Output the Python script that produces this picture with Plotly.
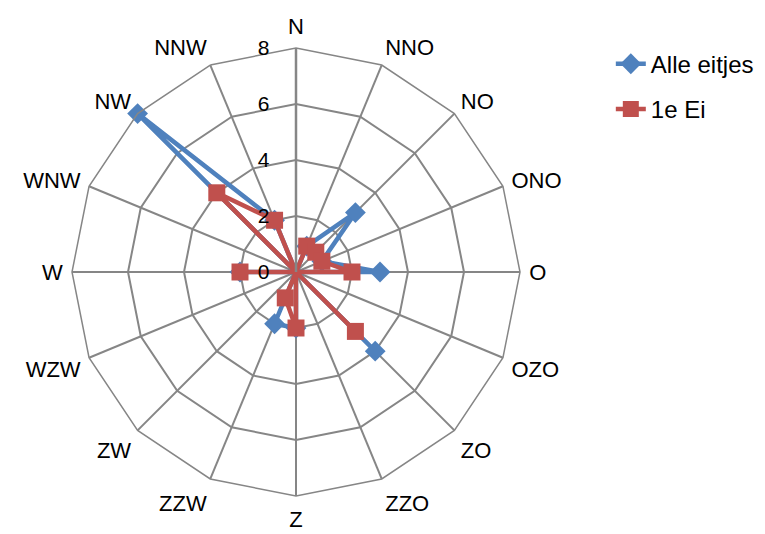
import plotly.graph_objects as go

directions = ["N", "NNO", "NO", "ONO", "O", "OZO", "ZO", "ZZO",
              "Z", "ZZW", "ZW", "WZW", "W", "WNW", "NW", "NNW"]
alle_eitjes = [0, 1, 3, 1, 3, 0, 4, 0, 2, 2, 0, 0, 2, 0, 8, 2]
eerste_ei = [0, 1, 1, 1, 2, 0, 3, 0, 2, 1, 0, 0, 2, 0, 4, 2]
radial_ticks = [0, 2, 4, 6, 8]

W, H = 765, 534
cx, cy, R = 288, 264, 224   # compensated for plotly's offset

def closed(a):
    return list(a) + [a[0]]

fig = go.Figure()
fig.add_trace(go.Scatterpolar(
    r=closed(alle_eitjes), theta=closed(directions), name="Alle eitjes",
    mode="lines+markers", legendgroup="a",
    line=dict(color="#4F81BD", width=4.5),
    marker=dict(symbol="diamond", size=16, color="#4F81BD"),
))
fig.add_trace(go.Scatterpolar(
    r=closed(eerste_ei), theta=closed(directions), name="1e Ei",
    mode="lines+markers", legendgroup="b",
    line=dict(color="#C0504D", width=4.5),
    marker=dict(symbol="square", size=17, color="#C0504D"),
))

fig.update_layout(
    width=W, height=H,
    margin=dict(l=0, r=0, t=0, b=0),
    paper_bgcolor="white", plot_bgcolor="white",
    font=dict(family="Liberation Sans", size=22, color="black"),
    polar=dict(
        domain=dict(x=[(cx - R) / W, (cx + R) / W],
                    y=[(H - cy - R) / H, (H - cy + R) / H]),
        gridshape="linear",
        bgcolor="white",
        radialaxis=dict(
            range=[0, 8], tickvals=radial_ticks, angle=90,
            showline=True, linecolor="#868686", linewidth=2.5,
            gridcolor="#868686", gridwidth=1.5,
            ticks="outside", ticklen=18, tickcolor="rgba(0,0,0,0)",
            tickangle=90, side="counterclockwise",
            tickfont=dict(size=21, color="black"),
        ),
        angularaxis=dict(
            direction="clockwise", rotation=90,
            showline=True, linecolor="#868686", linewidth=1.5,
            gridcolor="#868686", gridwidth=1.5,
            ticks="outside", ticklen=4, tickcolor="rgba(0,0,0,0)",
            tickfont=dict(size=22, color="black"),
        ),
    ),
    legend=dict(x=0.788, y=0.937, xanchor="left", yanchor="top",
                tracegroupgap=11, font=dict(size=24),
                bgcolor="rgba(0,0,0,0)"),
)

fig.write_html("out.html")
